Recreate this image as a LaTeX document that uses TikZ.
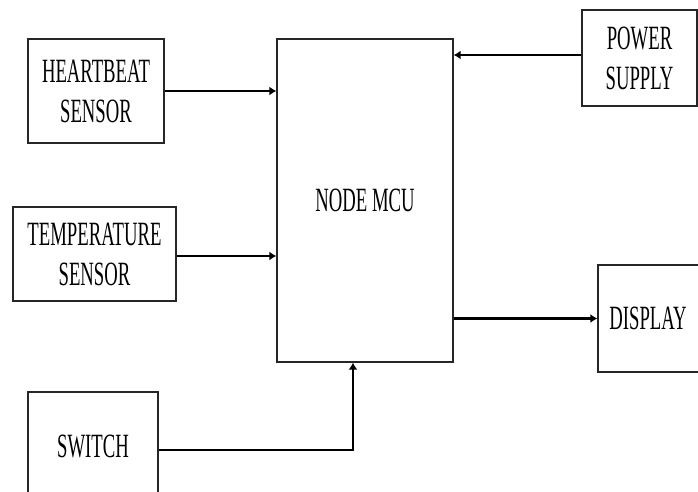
\documentclass[tikz,border=0pt]{standalone}
\usepackage{fontspec}
\setmainfont{Liberation Serif}
\usetikzlibrary{arrows.meta}
\newcommand\cnd[1]{\scalebox{0.55}[1]{#1}}
\begin{document}
\begin{tikzpicture}[x=1pt,y=-1pt,
  box/.style={draw=black!85, line width=1.3pt, rectangle, inner sep=0pt, align=center,
              font=\fontsize{34}{40}\selectfont},
  arr/.style={line width=2.8pt, -{Latex[length=7pt,width=9pt]}}]
\useasboundingbox (0,0) rectangle (698,491);
\begin{scope}
\clip (0,0) rectangle (698,491);
\node[box, minimum width=136pt, minimum height=104pt] (hb) at (96,91) {\cnd{HEARTBEAT}\\\cnd{SENSOR}};
\node[box, minimum width=163pt, minimum height=94pt] (tmp) at (94.5,254) {\cnd{TEMPERATURE}\\\cnd{SENSOR}};
\node[box, minimum width=130pt, minimum height=108pt] (sw) at (93,446) {\cnd{SWITCH}};
\node[box, minimum width=176pt, minimum height=323pt] (mcu) at (365,200.5) {\cnd{NODE MCU}};
\node[box, minimum width=115pt, minimum height=96pt] (ps) at (639.5,58) {\cnd{POWER}\\\cnd{SUPPLY}};
\node[box, minimum width=104pt, minimum height=107pt] (disp) at (650,318.5) {\hspace*{-4pt}\cnd{DISPLAY}};
\end{scope}
\draw[arr] (hb.east) -- (hb.east -| mcu.west);
\draw[arr] ([yshift=-2pt]tmp.east) -- ([yshift=-2pt]tmp.east -| mcu.west);
\draw[arr] ([yshift=3pt]ps.west) -- ([yshift=3pt]ps.west -| mcu.east);
\draw[arr] (mcu.east |- disp.west) -- (disp.west);
\draw[arr] ([yshift=-4pt]sw.east) -| ([xshift=-12pt]mcu.south);
\end{tikzpicture}
\end{document}
